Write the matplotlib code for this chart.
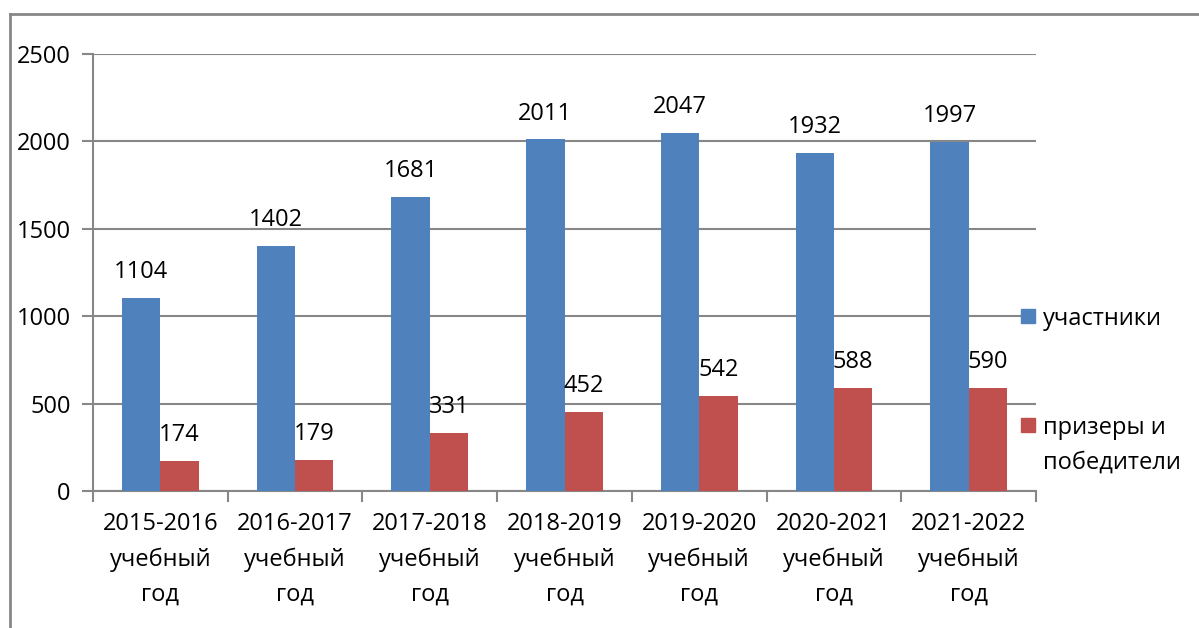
import numpy as np
import matplotlib.pyplot as plt
from matplotlib.lines import Line2D
from matplotlib.patches import Rectangle

plt.rcParams['font.family'] = ['Open Sans', 'DejaVu Sans']

# データ
years = ["2015-2016", "2016-2017", "2017-2018", "2018-2019", "2019-2020", "2020-2021", "2021-2022"]
participants = [1104, 1402, 1681, 2011, 2047, 1932, 1997]
winners = [174, 179, 331, 452, 542, 588, 590]
series_names = ["участники", "призеры и\nпобедители"]
y_ticks = [0, 500, 1000, 1500, 2000, 2500]

colors = ["#4F81BD", "#C0504D"]
grid_color = "#878787"
fs = 17

fig = plt.figure(figsize=(11.99, 6.28), dpi=100)
ax = fig.add_axes([93 / 1199, 1 - 491 / 628, (1036 - 93) / 1199, (491 - 54) / 628])

x = np.arange(len(years))
w = 0.285
b1 = ax.bar(x - w / 2, participants, w, color=colors[0], zorder=3)
b2 = ax.bar(x + w / 2, winners, w, color=colors[1], zorder=3)
ax.bar_label(b1, padding=10, fontsize=fs)
ax.bar_label(b2, padding=10, fontsize=fs)

ax.set_xlim(-0.5, len(years) - 0.5)
ax.set_ylim(0, 2500)
ax.set_yticks(y_ticks)
ax.tick_params(axis="y", labelsize=fs, length=8, width=1.5, color=grid_color, pad=8)
ax.yaxis.grid(True, color=grid_color, linewidth=1.5, zorder=0)

# x 軸のラベルと区切り目盛り
ax.set_xticks(x)
ax.set_xticklabels([y + "\nучебный\nгод" for y in years], fontsize=fs, linespacing=1.62)
ax.tick_params(axis="x", length=0, pad=15)
ax.set_xticks(np.arange(len(years) + 1) - 0.5, minor=True)
ax.tick_params(axis="x", which="minor", length=8, width=1.5, color=grid_color)

for side in ["top", "right"]:
    ax.spines[side].set_visible(False)
for side in ["left", "bottom"]:
    ax.spines[side].set_color(grid_color)
    ax.spines[side].set_linewidth(1.5)

# 凡例 (手書き)
leg_y = [316, 425]
for name, c, yy in zip(series_names, colors, leg_y):
    fy = 1 - yy / 628
    fig.add_artist(Rectangle((1021 / 1199, fy - 7 / 628), 14 / 1199, 14 / 628, color=c,
                             transform=fig.transFigure))
    fig.text(1043 / 1199, fy + 9 / 628, name, fontsize=fs, va="top", ha="left", linespacing=1.6)

# 外枠
fig.add_artist(Line2D([10 / 1199, 1], [1 - 14 / 628, 1 - 14 / 628], color=grid_color, linewidth=2))
fig.add_artist(Line2D([10 / 1199, 10 / 1199], [0, 1 - 14 / 628], color=grid_color, linewidth=2))

fig.savefig("out.png", dpi=100)
